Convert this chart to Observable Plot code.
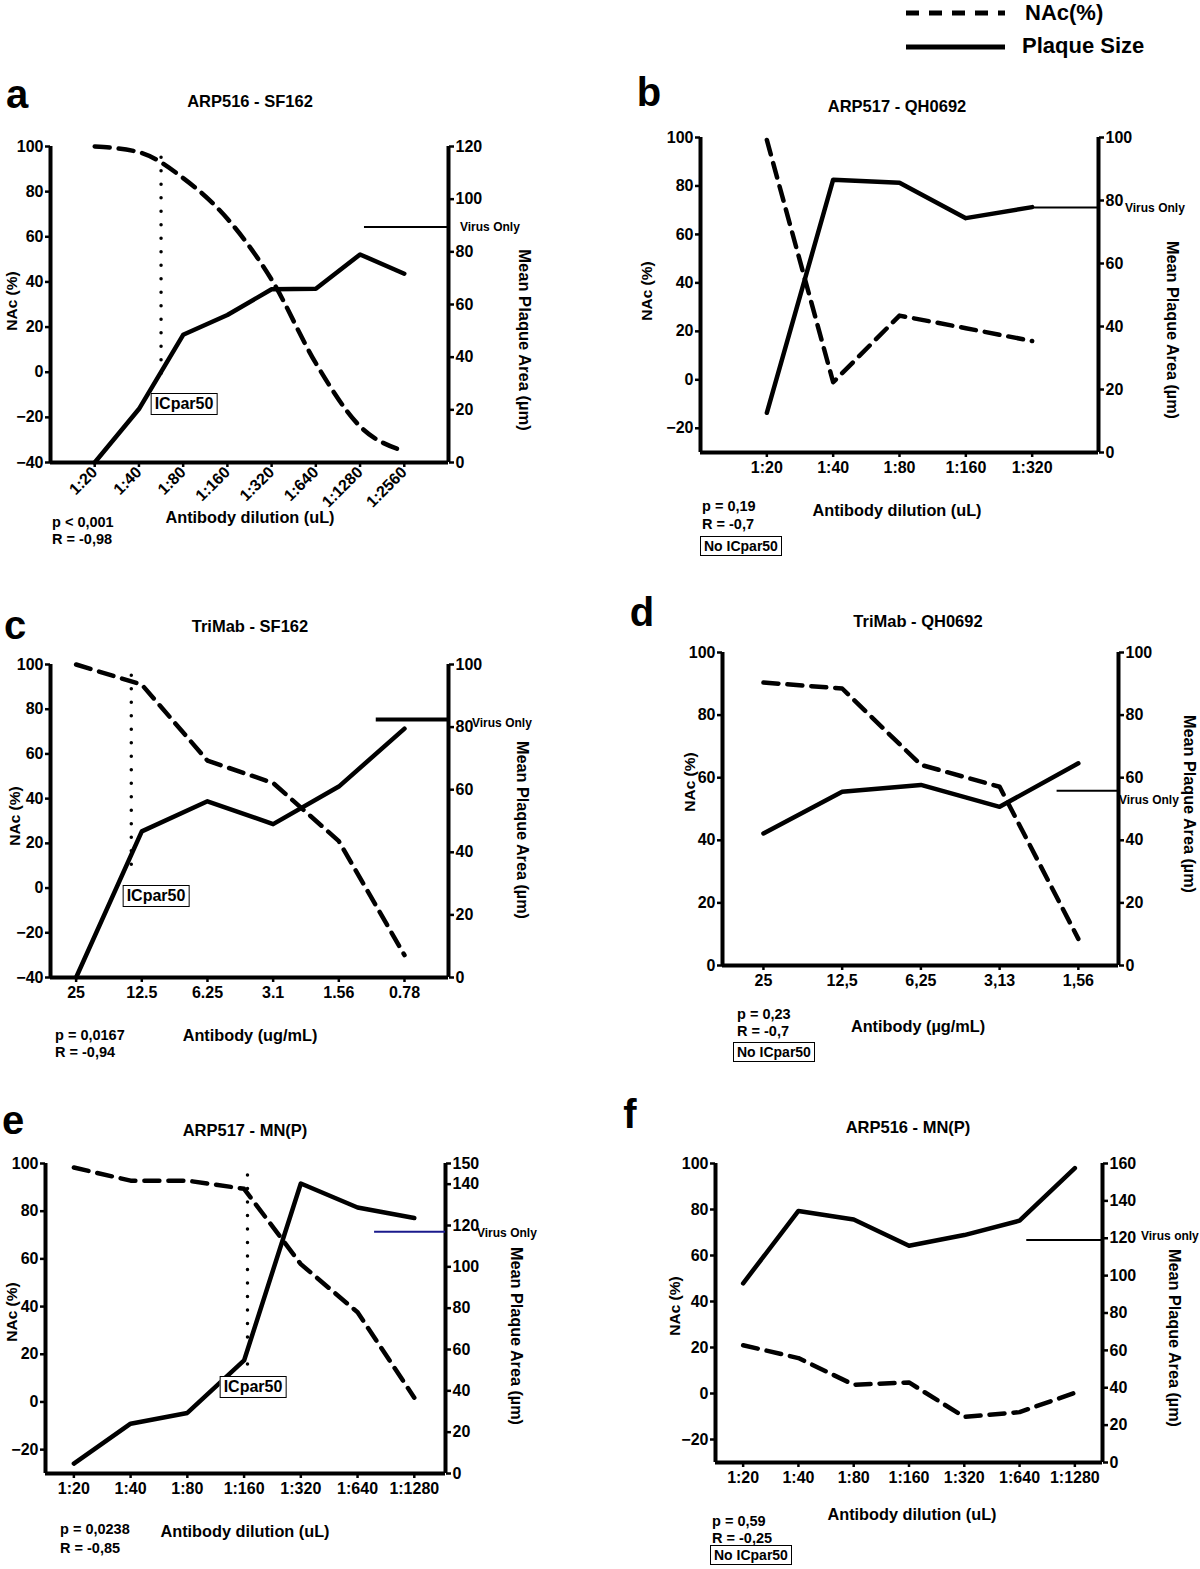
<!DOCTYPE html>
<html><head><meta charset="utf-8">
<script src="https://cdn.jsdelivr.net/npm/d3@7"></script>
<script src="https://cdn.jsdelivr.net/npm/@observablehq/plot@0.6"></script>
<style>
body{margin:0;background:#fff;}
#page{position:relative;width:1200px;height:1569px;overflow:hidden;font-family:"Liberation Sans",Arial,sans-serif;font-weight:bold;color:#000;background:#fff;}
.t{position:absolute;white-space:nowrap;line-height:1;}
.box{position:absolute;border:1.5px solid #000;background:#fff;padding:2px 3px;line-height:1;white-space:nowrap;}
</style></head><body><div id="page"></div>
<script>
// ---------- DATA ----------
const legendLabels = ["NAc(%)", "Plaque Size"];

// a
const aTitle = "ARP516 - SF162";
const aDilutions = ["1:20","1:40","1:80","1:160","1:320","1:640","1:1280","1:2560"];
const aNAc = [100, 97.5, 86, 68, 41, 4, -24, -35];
const aPlaque = [0, 20.3, 48.5, 56, 65.8, 66, 79, 71.7];
const aVirusOnly = 89.4;
const aICpar50 = 1.5;
const aLeftTicks = [-40, -20, 0, 20, 40, 60, 80, 100];
const aRightTicks = [0, 20, 40, 60, 80, 100, 120];
const aStats = ["p < 0,001", "R = -0,98"];

// b
const bTitle = "ARP517 - QH0692";
const bDilutions = ["1:20","1:40","1:80","1:160","1:320"];
const bNAc = [99, -1, 26.5, 21.3, 16];
const bPlaque = [12.6, 86.6, 85.6, 74.4, 77.9];
const bVirusOnly = 77.8;
const bLeftTicks = [-20, 0, 20, 40, 60, 80, 100];
const bRightTicks = [0, 20, 40, 60, 80, 100];
const bStats = ["p = 0,19", "R = -0,7"];

// c
const cTitle = "TriMab - SF162";
const cConcentrations = ["25","12.5","6.25","3.1","1.56","0.78"];
const cNAc = [100, 91, 57, 47, 21, -30];
const cPlaque = [0, 46.7, 56.3, 49, 61, 79.5];
const cVirusOnly = 82.4;
const cICpar50 = 0.84;
const cLeftTicks = [-40, -20, 0, 20, 40, 60, 80, 100];
const cRightTicks = [0, 20, 40, 60, 80, 100];
const cStats = ["p = 0,0167", "R = -0,94"];

// d
const dTitle = "TriMab - QH0692";
const dConcentrations = ["25","12,5","6,25","3,13","1,56"];
const dNAc = [90.4, 88.5, 64.1, 57.1, 8.5];
const dPlaque = [42.2, 55.5, 57.7, 50.7, 64.6];
const dVirusOnly = 55.8;
const dLeftTicks = [0, 20, 40, 60, 80, 100];
const dRightTicks = [0, 20, 40, 60, 80, 100];
const dStats = ["p = 0,23", "R = -0,7"];

// e
const eTitle = "ARP517 - MN(P)";
const eDilutions = ["1:20","1:40","1:80","1:160","1:320","1:640","1:1280"];
const eNAc = [98.3, 92.8, 92.8, 89.4, 57.8, 37.6, 1.8];
const ePlaque = [4.8, 24.1, 29.3, 54.7, 140.3, 128.7, 123.6];
const eVirusOnly = 117;
const eICpar50 = 3.06;
const eLeftTicks = [-20, 0, 20, 40, 60, 80, 100];
const eRightTicks = [0, 20, 40, 60, 80, 100, 120, 140, 150];
const eStats = ["p = 0,0238", "R = -0,85"];

// f
const fTitle = "ARP516 - MN(P)";
const fDilutions = ["1:20","1:40","1:80","1:160","1:320","1:640","1:1280"];
const fNAc = [21, 15.4, 3.8, 4.8, -10.2, -8.1, 0.3];
const fPlaque = [95.9, 134.6, 130, 116, 121.7, 129.4, 157.5];
const fVirusOnly = 119;
const fLeftTicks = [-20, 0, 20, 40, 60, 80, 100];
const fRightTicks = [0, 20, 40, 60, 80, 100, 120, 140, 160];
const fStats = ["p =  0,59", "R = -0,25"];

// ---------- HELPERS ----------
const page = document.getElementById("page");
const FONT = '"Liberation Sans", Arial, sans-serif';

function txt(text, x, y, o = {}) {
  const {size = 16, anchor = "middle", rotate = 0, weight = "bold", color = "#000"} = o;
  const d = document.createElement("div");
  d.className = "t";
  d.textContent = text;
  d.style.fontSize = size + "px";
  d.style.fontWeight = weight;
  d.style.color = color;
  d.style.left = x + "px";
  d.style.top = y + "px";
  const tx = anchor === "start" ? "0" : anchor === "end" ? "-100%" : "-50%";
  d.style.transform = `translate(${tx},-50%)` + (rotate ? ` rotate(${rotate}deg)` : "");
  page.appendChild(d);
  return d;
}
function box(text, x, y, o = {}) {
  const {size = 16, anchor = "middle"} = o;
  const d = document.createElement("div");
  d.className = "box";
  d.textContent = text;
  d.style.fontSize = size + "px";
  d.style.left = x + "px";
  d.style.top = y + "px";
  const tx = anchor === "start" ? "0" : "-50%";
  d.style.transform = `translate(${tx},-50%)`;
  page.appendChild(d);
}

function drawPanel(cfg) {
  const {cats, nac, plaque, leftDomain, rightDomain, leftTicks, rightTicks, xDomain, frame,
         virus, virusFrom, virusColor = "#000", virusWidth = 2, ic, icTop, icBottom,
         rotate = 0, nacCurve = "linear"} = cfg;
  const mL = 44, mR = 44, mT = 14, mB = 60;
  const toLeft = v => leftDomain[0] + (v - rightDomain[0]) / (rightDomain[1] - rightDomain[0]) * (leftDomain[1] - leftDomain[0]);
  const rightLabel = new Map(rightTicks.map(t => [toLeft(t), String(t)]));
  const idx = cats.map((_, i) => i);
  const nacData = nac.map((v, i) => ({i, v}));
  const plaqueData = plaque.map((v, i) => ({i, v: toLeft(v)}));
  const marks = [
    Plot.axisY(leftTicks, {anchor: "left", tickSize: 5, tickPadding: 2, strokeWidth: 2.5, label: null}),
    Plot.axisY(rightTicks.map(toLeft), {anchor: "right", tickSize: 5, tickPadding: 2, strokeWidth: 2.5, label: null, tickFormat: d => rightLabel.get(d)}),
    Plot.axisX(idx, {anchor: "bottom", tickSize: 5, tickPadding: rotate ? 2 : 4, strokeWidth: 2.5, label: null, tickRotate: rotate, tickFormat: i => cats[i]}),
    Plot.ruleX([xDomain[0], xDomain[1]], {strokeWidth: 4}),
    Plot.ruleY([leftDomain[0]], {strokeWidth: 4})
  ];
  if (virus != null) marks.push(Plot.ruleY([toLeft(virus)], {x1: virusFrom, x2: xDomain[1], stroke: virusColor, strokeWidth: virusWidth}));
  if (ic != null) marks.push(Plot.ruleX([ic], {y1: icTop, y2: icBottom, strokeWidth: 3.5, strokeDasharray: "0,13.5", strokeLinecap: "round"}));
  marks.push(Plot.line(plaqueData, {x: "i", y: "v", strokeWidth: 4.5}));
  marks.push(Plot.line(nacData, {x: "i", y: "v", strokeWidth: 4.5, strokeDasharray: "15,9", curve: nacCurve}));
  const svg = Plot.plot({
    width: frame.r - frame.l + mL + mR,
    height: frame.b - frame.t + mT + mB,
    marginLeft: mL, marginRight: mR, marginTop: mT, marginBottom: mB,
    x: {domain: xDomain, axis: null},
    y: {domain: leftDomain, axis: null},
    style: {fontFamily: FONT, fontSize: "16px", fontWeight: "bold", background: "transparent", overflow: "visible", color: "#000"},
    marks
  });
  svg.style.position = "absolute";
  svg.style.left = (frame.l - mL) + "px";
  svg.style.top = (frame.t - mT) + "px";
  page.appendChild(svg);
}

// ---------- LEGEND ----------
{
  const s = d3.select(page).append("svg").attr("width", 1200).attr("height", 70)
    .style("position", "absolute").style("left", "0px").style("top", "0px");
  s.append("line").attr("x1", 906).attr("x2", 1005).attr("y1", 13).attr("y2", 13)
    .attr("stroke", "#000").attr("stroke-width", 5).attr("stroke-dasharray", "13,10");
  s.append("line").attr("x1", 906).attr("x2", 1005).attr("y1", 47).attr("y2", 47)
    .attr("stroke", "#000").attr("stroke-width", 5);
  txt(legendLabels[0], 1025, 13, {size: 22, anchor: "start"});
  txt(legendLabels[1], 1022, 46, {size: 22, anchor: "start"});
}

const TS = 16.5, YL = 15.5, RL = 16.2, XL = 16.3, SS = 14.5;

// ---------- PANEL a ----------
drawPanel({cats: aDilutions, nac: aNAc, plaque: aPlaque, leftDomain: [-40, 100], rightDomain: [0, 120],
  leftTicks: aLeftTicks, rightTicks: aRightTicks, xDomain: [-1, 8], frame: {l: 50, r: 448, t: 146, b: 462},
  virus: aVirusOnly, virusFrom: 6.1, ic: aICpar50, icTop: 95, icBottom: -5, rotate: -45, nacCurve: "monotone-x"});
txt("a", 17, 94, {size: 40});
txt(aTitle, 250, 101, {size: TS});
txt("NAc (%)", 12, 301, {size: YL, rotate: -90});
txt("Mean Plaque Area (µm)", 525, 340, {size: 16.5, rotate: 90});
txt("Virus Only", 460, 227, {size: 12, anchor: "start"});
txt("Antibody dilution (uL)", 250, 517, {size: XL});
txt(aStats[0], 52, 522, {size: SS, anchor: "start"});
txt(aStats[1], 52, 539, {size: SS, anchor: "start"});
box("ICpar50", 184, 404, {size: 16});

// ---------- PANEL b ----------
drawPanel({cats: bDilutions, nac: bNAc, plaque: bPlaque, leftDomain: [-30, 100], rightDomain: [0, 100],
  leftTicks: bLeftTicks, rightTicks: bRightTicks, xDomain: [-1, 5], frame: {l: 700, r: 1098, t: 137, b: 452},
  virus: bVirusOnly, virusFrom: 4});
txt("b", 649, 92, {size: 40});
txt(bTitle, 897, 106, {size: TS});
txt("NAc (%)", 647, 291, {size: YL, rotate: -90});
txt("Mean Plaque Area  (µm)", 1173, 330, {size: RL, rotate: 90});
txt("Virus Only", 1125, 208, {size: 12, anchor: "start"});
txt("Antibody dilution (uL)", 897, 510, {size: XL});
txt(bStats[0], 702, 506, {size: SS, anchor: "start"});
txt(bStats[1], 702, 524, {size: SS, anchor: "start"});
box("No ICpar50", 700, 546, {size: 14, anchor: "start"});

// ---------- PANEL c ----------
drawPanel({cats: cConcentrations, nac: cNAc, plaque: cPlaque, leftDomain: [-40, 100], rightDomain: [0, 100],
  leftTicks: cLeftTicks, rightTicks: cRightTicks, xDomain: [-0.39, 5.67], frame: {l: 50, r: 448, t: 664, b: 977},
  virus: cVirusOnly, virusFrom: 4.57, virusWidth: 4, ic: cICpar50, icTop: 95, icBottom: 8});
txt("c", 15, 625, {size: 40});
txt(cTitle, 250, 626, {size: TS});
txt("NAc (%)", 15, 816, {size: YL, rotate: -90});
txt("Mean Plaque Area  (µm)", 523, 830, {size: RL, rotate: 90});
txt("Virus Only", 472, 723, {size: 12, anchor: "start"});
txt("Antibody (ug/mL)", 250, 1035, {size: XL});
txt(cStats[0], 55, 1035, {size: SS, anchor: "start"});
txt(cStats[1], 55, 1052, {size: SS, anchor: "start"});
box("ICpar50", 156, 896, {size: 16});

// ---------- PANEL d ----------
drawPanel({cats: dConcentrations, nac: dNAc, plaque: dPlaque, leftDomain: [0, 100], rightDomain: [0, 100],
  leftTicks: dLeftTicks, rightTicks: dRightTicks, xDomain: [-0.52, 4.51], frame: {l: 722, r: 1118, t: 652, b: 965},
  virus: dVirusOnly, virusFrom: 3.73});
txt("d", 642, 612, {size: 40});
txt(dTitle, 918, 621, {size: TS});
txt("NAc (%)", 690, 782, {size: YL, rotate: -90});
txt("Mean Plaque Area  (µm)", 1190, 804, {size: RL, rotate: 90});
txt("Virus Only", 1119, 800, {size: 12, anchor: "start"});
txt("Antibody (µg/mL)", 918, 1026, {size: XL});
txt(dStats[0], 737, 1014, {size: SS, anchor: "start"});
txt(dStats[1], 737, 1031, {size: SS, anchor: "start"});
box("No ICpar50", 733, 1052, {size: 14, anchor: "start"});

// ---------- PANEL e ----------
drawPanel({cats: eDilutions, nac: eNAc, plaque: ePlaque, leftDomain: [-30, 100], rightDomain: [0, 150],
  leftTicks: eLeftTicks, rightTicks: eRightTicks, xDomain: [-0.5, 6.55], frame: {l: 45, r: 445, t: 1163, b: 1473},
  virus: eVirusOnly, virusFrom: 5.3, virusColor: "#1a1a8c", ic: eICpar50, icTop: 95, icBottom: 14});
txt("e", 13, 1120, {size: 40});
txt(eTitle, 245, 1130, {size: TS});
txt("NAc (%)", 12, 1312, {size: YL, rotate: -90});
txt("Mean Plaque Area  (µm)", 517, 1336, {size: RL, rotate: 90});
txt("Virus Only", 477, 1233, {size: 12, anchor: "start"});
txt("Antibody dilution (uL)", 245, 1531, {size: XL});
txt(eStats[0], 60, 1529, {size: SS, anchor: "start"});
txt(eStats[1], 60, 1548, {size: SS, anchor: "start"});
box("ICpar50", 253, 1387, {size: 16});

// ---------- PANEL f ----------
drawPanel({cats: fDilutions, nac: fNAc, plaque: fPlaque, leftDomain: [-30, 100], rightDomain: [0, 160],
  leftTicks: fLeftTicks, rightTicks: fRightTicks, xDomain: [-0.5, 6.5], frame: {l: 715, r: 1102, t: 1163, b: 1462},
  virus: fVirusOnly, virusFrom: 5.13});
txt("f", 630, 1114, {size: 40});
txt(fTitle, 908, 1127, {size: TS});
txt("NAc (%)", 675, 1306, {size: YL, rotate: -90});
txt("Mean Plaque Area  (µm)", 1175, 1338, {size: RL, rotate: 90});
txt("Virus only", 1141, 1236, {size: 12, anchor: "start"});
txt("Antibody dilution (uL)", 912, 1514, {size: XL});
txt(fStats[0], 712, 1521, {size: SS, anchor: "start"});
txt(fStats[1], 712, 1538, {size: SS, anchor: "start"});
box("No ICpar50", 710, 1555, {size: 14, anchor: "start"});
</script></body></html>
